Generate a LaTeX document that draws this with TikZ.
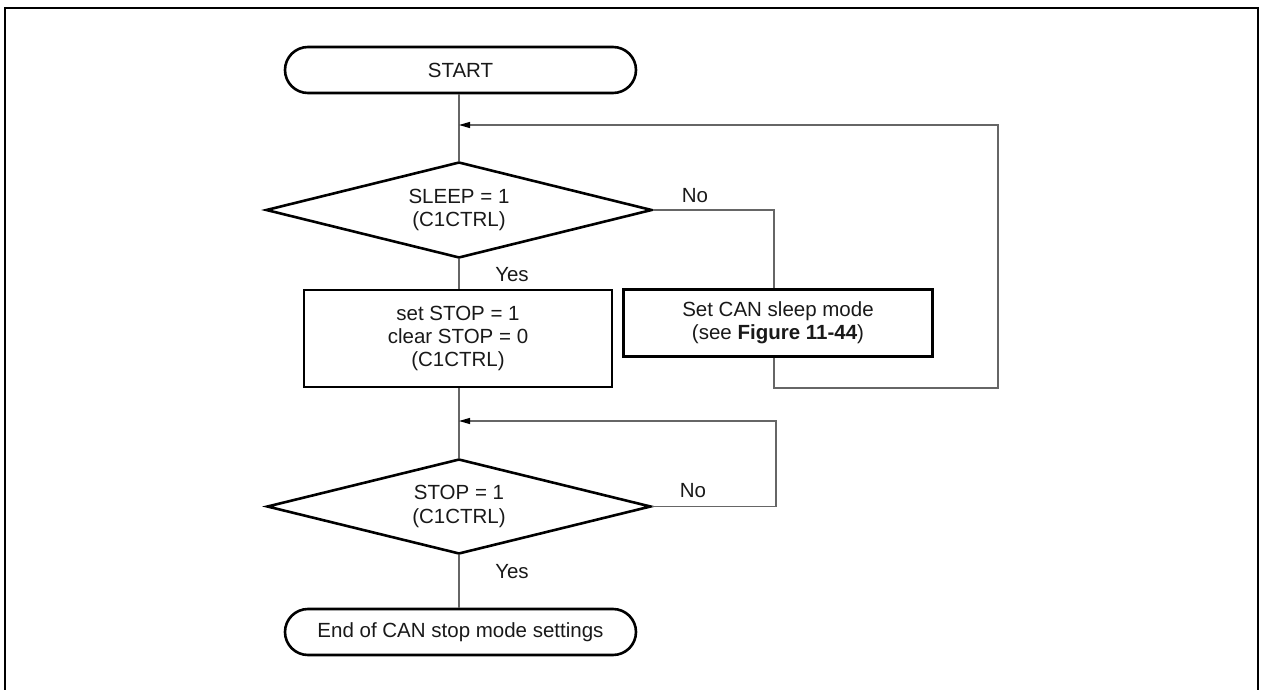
\documentclass[tikz,border=0pt]{standalone}
\usepackage{fontspec}
\setmainfont{Liberation Sans}
\usetikzlibrary{shapes.geometric,arrows.meta}
\begin{document}
\begin{tikzpicture}[x=1pt,y=-1pt,
  every node/.style={font=\fontsize{20.5}{23.3}\selectfont, text=black!90},
  shapeline/.style={draw=black, line width=2.6pt},
  term/.style={shapeline, rectangle, rounded corners=23pt, minimum width=351pt, minimum height=46pt, inner sep=0pt},
  dec/.style={shapeline, diamond, aspect=4, minimum width=386pt, minimum height=96pt, inner sep=0pt, align=center},
  proc/.style={shapeline, rectangle, inner sep=0pt, align=center},
  conn/.style={draw=black!60, line width=1.2pt},
  arr/.style={-{Triangle[length=11pt,width=6pt,fill=black,color=black]}},
  lbl/.style={inner sep=0pt},
  frame/.style={draw=black, line width=2.6pt}]
\useasboundingbox (0,0) rectangle (1261,690);
\draw[frame] (5,692) -- (5,8) -- (1258,8) -- (1258,692);

\node[term] (start) at (460.5,70) {START};
\node[dec] (d1) at (459,210) {SLEEP = 1\\(C1CTRL)};
\node[proc, minimum width=308pt, minimum height=97pt] (b1) at (458,338.5) {set STOP = 1\\clear STOP = 0\\(C1CTRL)};
\node[proc, minimum width=309pt, minimum height=67pt] (b2) at (778,323) {Set CAN sleep mode\\(see \textbf{Figure 11-44})};
\node[dec, minimum width=384pt, minimum height=95pt] (d2) at (459,506.5) {STOP = 1\\(C1CTRL)};
\node[term] (end) at (460.5,632) {End of CAN stop mode settings};

\node[lbl] (no1) at (695,196) {No};
\node[lbl] (yes1) at (512,275) {Yes};
\node[lbl] (no2) at (693,491) {No};
\node[lbl] (yes2) at (512,572) {Yes};

\coordinate (nx) at (774,0);
\coordinate (j1) at (459,125);
\coordinate (r1t) at (998,125);
\coordinate (r1b) at (998,388);
\coordinate (j2) at (459,421);
\coordinate (r2t) at (776,421);

% main spine
\draw[conn] (d1.north |- start.south) -- (d1.north);
\draw[conn] (d1.south) -- (d1.south |- b1.north);
\draw[conn] (d2.north |- b1.south) -- (d2.north);
\draw[conn] (d2.south) -- (d2.south |- end.north);

% SLEEP = 1 : No branch
\draw[conn] (d1.east) -- (d1.east -| nx) -- (nx |- b2.north);
\draw[conn, arr] (nx |- b2.south) -- (nx |- r1b) -- (r1b) -- (r1t) -- (j1);

% STOP = 1 : No loop
\draw[conn, arr] (d2.east) -- (d2.east -| r2t) -- (r2t) -- (j2);
\end{tikzpicture}
\end{document}
